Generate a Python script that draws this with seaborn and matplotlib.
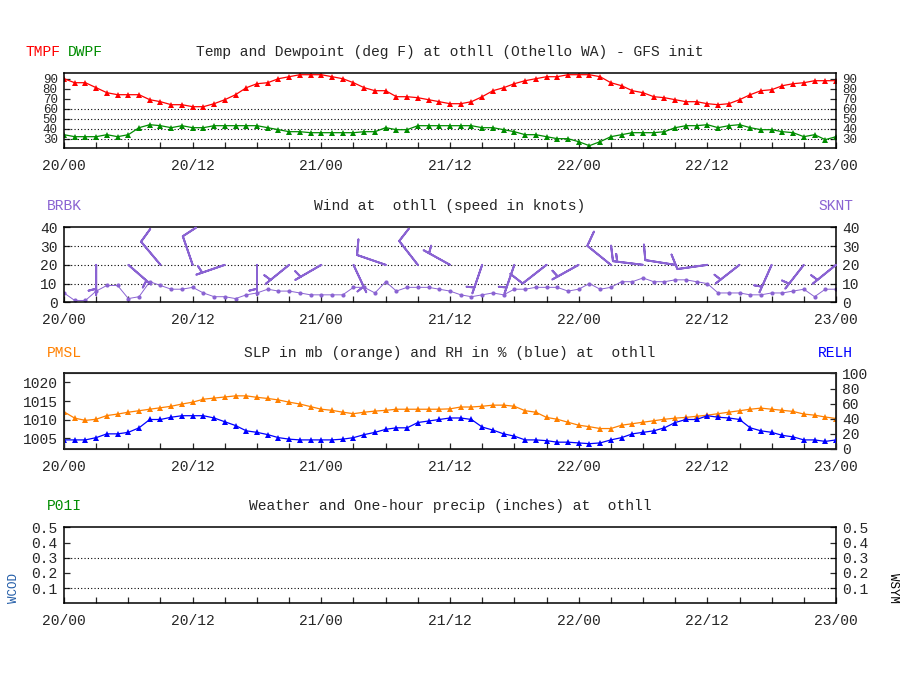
import numpy as np
import matplotlib
matplotlib.use('Agg')
import matplotlib.pyplot as plt
import seaborn as sns
from matplotlib.ticker import MultipleLocator, FuncFormatter

# ------------------------------------------------------------------
# data (hourly, 20/00 -> 23/00)
# ------------------------------------------------------------------
hours = np.arange(0, 73)

tmpf = [90, 86, 86, 81, 76, 74, 74, 74, 69, 67, 64, 64, 62, 62, 65, 69,
        74, 81, 85, 86, 90, 92, 94, 94, 94, 92, 90, 86, 81, 78, 78, 72,
        72, 71, 69, 67, 65, 65, 67, 72, 78, 81, 85, 88, 90, 92, 92, 94,
        94, 94, 92, 86, 83, 78, 76, 72, 71, 69, 67, 67, 65, 64, 65, 69,
        74, 78, 79, 83, 85, 86, 88, 88, 88]

dwpf = [34, 32, 32, 32, 34, 32, 34, 41, 44, 43, 41, 43, 41, 41, 43, 43,
        43, 43, 43, 41, 39, 37, 37, 36, 36, 36, 36, 36, 37, 37, 41, 39,
        39, 43, 43, 43, 43, 43, 43, 41, 41, 39, 37, 34, 34, 32, 30, 30,
        27, 23, 27, 32, 34, 36, 36, 36, 37, 41, 43, 43, 44, 41, 43, 44,
        41, 39, 39, 37, 36, 32, 34, 29, 32]

sknt = [5, 1, 1, 6, 9, 9, 2, 3, 11, 9, 7, 7, 8, 5, 3, 3,
        2, 4, 5, 7, 6, 6, 5, 4, 4, 4, 4, 8, 8, 5, 11, 6,
        8, 8, 8, 7, 6, 4, 3, 4, 5, 4, 7, 7, 8, 8, 8, 6,
        7, 10, 7, 8, 11, 11, 13, 11, 11, 12, 12, 11, 10, 5, 5, 5,
        4, 4, 5, 5, 6, 7, 3, 7, 7]

# wind barbs every 3 h: direction (deg, from) and plotted speed (kt)
barb_hr = [3, 6, 9, 12, 15, 18, 21, 24, 27, 30, 33, 36,
           39, 42, 45, 48, 51, 54, 57, 60, 63, 66, 69, 72]
barb_dir = [180, 131, 320, 341, 251, 180, 231, 240, 155, 289, 322, 299,
            199, 199, 232, 241, 309, 277, 279, 262, 232, 204, 218, 231]
barb_kt = [5, 5, 10, 10, 5, 5, 5, 5, 5, 10, 10, 5,
           5, 5, 10, 5, 10, 15, 10, 10, 5, 5, 5, 5]

pmsl = [1012.1, 1010.4, 1009.8, 1010.1, 1011.1, 1011.5, 1012.0, 1012.4,
        1012.8, 1013.2, 1013.6, 1014.2, 1014.7, 1015.5, 1015.8, 1016.1,
        1016.4, 1016.4, 1016.0, 1015.7, 1015.3, 1014.7, 1014.2, 1013.5,
        1012.8, 1012.5, 1012.0, 1011.6, 1012.0, 1012.3, 1012.5, 1012.8,
        1012.8, 1012.8, 1012.8, 1012.8, 1012.9, 1013.4, 1013.4, 1013.6,
        1013.9, 1013.9, 1013.6, 1012.4, 1012.0, 1010.6, 1010.1, 1009.3,
        1008.5, 1008.1, 1007.6, 1007.6, 1008.5, 1008.9, 1009.3, 1009.7,
        1010.1, 1010.4, 1010.6, 1010.9, 1011.2, 1011.6, 1012.0, 1012.4,
        1012.8, 1013.1, 1012.8, 1012.5, 1012.2, 1011.5, 1011.2, 1010.7,
        1010.3]

relh = [12, 12, 12, 15, 20, 20, 22, 28, 39, 39, 42, 44, 44, 44, 41, 36,
        31, 24, 22, 19, 15, 13, 12, 12, 12, 12, 13, 15, 19, 22, 26, 28,
        28, 35, 37, 39, 41, 41, 39, 29, 25, 20, 17, 12, 12, 11, 9, 9,
        8, 7, 8, 12, 15, 20, 22, 24, 28, 35, 39, 39, 44, 42, 41, 39,
        28, 24, 22, 18, 16, 12, 12, 10, 12]

xlabels_every = 12
FONT = ['Liberation Mono', 'DejaVu Sans Mono']
FS = 10.5

C_T = '#ff0000'
C_TD = '#008c00'
C_W = '#8a63d2'
C_P = '#ff8000'
C_RH = '#0000ff'

sns.set_style('white')
plt.rcParams['font.family'] = FONT
plt.rcParams['font.size'] = FS

fig = plt.figure(figsize=(9, 7), dpi=100)
W, L = 0.8578, 0.0711
ax_t = fig.add_axes([L, 0.7886, W, 0.1071])
ax_w = fig.add_axes([L, 0.5681, W, 0.1071])
ax_p = fig.add_axes([L, 0.3586, W, 0.1080])
ax_q = fig.add_axes([L, 0.1381, W, 0.1086])


def dotted(ax, levels):
    for lv in levels:
        ax.axhline(lv, color='black', lw=0.8, ls=(0, (1, 2)), zorder=1)


def time_axis(ax, ysize=FS):
    ax.set_xlim(0, 72)
    ax.xaxis.set_major_locator(MultipleLocator(xlabels_every))
    ax.xaxis.set_minor_locator(MultipleLocator(3))
    ax.xaxis.set_major_formatter(
        FuncFormatter(lambda h, p: f"{20 + int(h) // 24}/{int(h) % 24:02d}"))
    ax.tick_params(axis='x', which='both', direction='in', length=4.3,
                   width=0.9, pad=8, labelsize=FS, bottom=True, top=False)
    ax.tick_params(axis='y', direction='in', length=4.3, width=0.9,
                   labelsize=ysize, left=True, right=True,
                   labelleft=True, labelright=True, pad=4.5)
    for s in ax.spines.values():
        s.set_color('black')
        s.set_linewidth(1.1)
    ax.set_xlabel('')
    ax.set_ylabel('')


line_kw = dict(marker='^', markersize=4, markeredgewidth=0, linewidth=0.9)

# --- temp / dewpoint ---------------------------------------------
sns.lineplot(x=hours, y=tmpf, ax=ax_t, color=C_T, **line_kw)
sns.lineplot(x=hours, y=dwpf, ax=ax_t, color=C_TD, **line_kw)
ax_t.set_ylim(20.7, 95.7)
ax_t.set_yticks(range(30, 91, 10))
dotted(ax_t, [30, 40, 50, 60])
time_axis(ax_t, ysize=9)

# --- wind ----------------------------------------------------------
sns.lineplot(x=hours, y=sknt, ax=ax_w, color=C_W, marker='o', markersize=3,
             markeredgewidth=0, linewidth=0.7)
d = np.deg2rad(barb_dir)
u = -np.array(barb_kt) * np.sin(d)
v = -np.array(barb_kt) * np.cos(d)
ax_w.barbs(barb_hr, np.full(len(barb_hr), 20), u, v, length=6.6,
           sizes=dict(height=0.5, spacing=0.14),
           color=C_W, linewidth=1.4, clip_on=False, zorder=3)
ax_w.set_ylim(0, 40)
ax_w.set_yticks(range(0, 41, 10))
dotted(ax_w, [10, 20, 30])
time_axis(ax_w)

# --- pressure / RH -------------------------------------------------
sns.lineplot(x=hours, y=pmsl, ax=ax_p, color=C_P, **line_kw)
ax_p.set_ylim(1002.1, 1022.45)
ax_p.set_yticks(range(1005, 1021, 5))
time_axis(ax_p)
ax_p.tick_params(axis='y', right=False, labelright=False)
ax_rh = ax_p.twinx()
sns.lineplot(x=hours, y=relh, ax=ax_rh, color=C_RH, **line_kw)
ax_rh.set_ylim(0, 100)
ax_rh.set_yticks(range(0, 101, 20))
ax_rh.set_ylabel('')
ax_rh.tick_params(axis='y', direction='in', length=4.3, width=0.9,
                  labelsize=FS, pad=4.5)

# --- precip (empty) -------------------------------------------------
ax_q.set_ylim(0, 0.5)
ax_q.set_yticks([0.1, 0.2, 0.3, 0.4, 0.5])
ax_q.yaxis.set_major_formatter(FuncFormatter(lambda y, p: f"{y:.1f}"))
dotted(ax_q, [0.1, 0.3])
time_axis(ax_q)

# --- headers -------------------------------------------------------
fig.text(0.028, 0.9257, 'TMPF', color=C_T, va='center', fontsize=FS)
fig.text(0.0755, 0.9257, 'DWPF', color=C_TD, va='center', fontsize=FS)
fig.text(0.5, 0.9257,
         'Temp and Dewpoint (deg F) at othll (Othello WA) - GFS init',
         ha='center', va='center', fontsize=FS)

fig.text(0.052, 0.7057, 'BRBK', color=C_W, va='center', fontsize=FS)
fig.text(0.5, 0.7057, 'Wind at  othll (speed in knots)',
         ha='center', va='center', fontsize=FS)
fig.text(0.909, 0.7057, 'SKNT', color=C_W, va='center', fontsize=FS)

fig.text(0.052, 0.4957, 'PMSL', color=C_P, va='center', fontsize=FS)
fig.text(0.5, 0.4957, 'SLP in mb (orange) and RH in % (blue) at  othll',
         ha='center', va='center', fontsize=FS)
fig.text(0.909, 0.4957, 'RELH', color=C_RH, va='center', fontsize=FS)

fig.text(0.052, 0.2771, 'P01I', color=C_TD, va='center', fontsize=FS)
fig.text(0.5, 0.2771, 'Weather and One-hour precip (inches) at  othll',
         ha='center', va='center', fontsize=FS)
fig.text(0.016, 0.16, 'WCOD', color='#1f5aa6', rotation=90,
         ha='center', va='center', fontsize=9)
fig.text(0.992, 0.16, 'WSYM', color='black', rotation=270,
         ha='center', va='center', fontsize=9)

fig.savefig('out.png', dpi=100, facecolor='white')
